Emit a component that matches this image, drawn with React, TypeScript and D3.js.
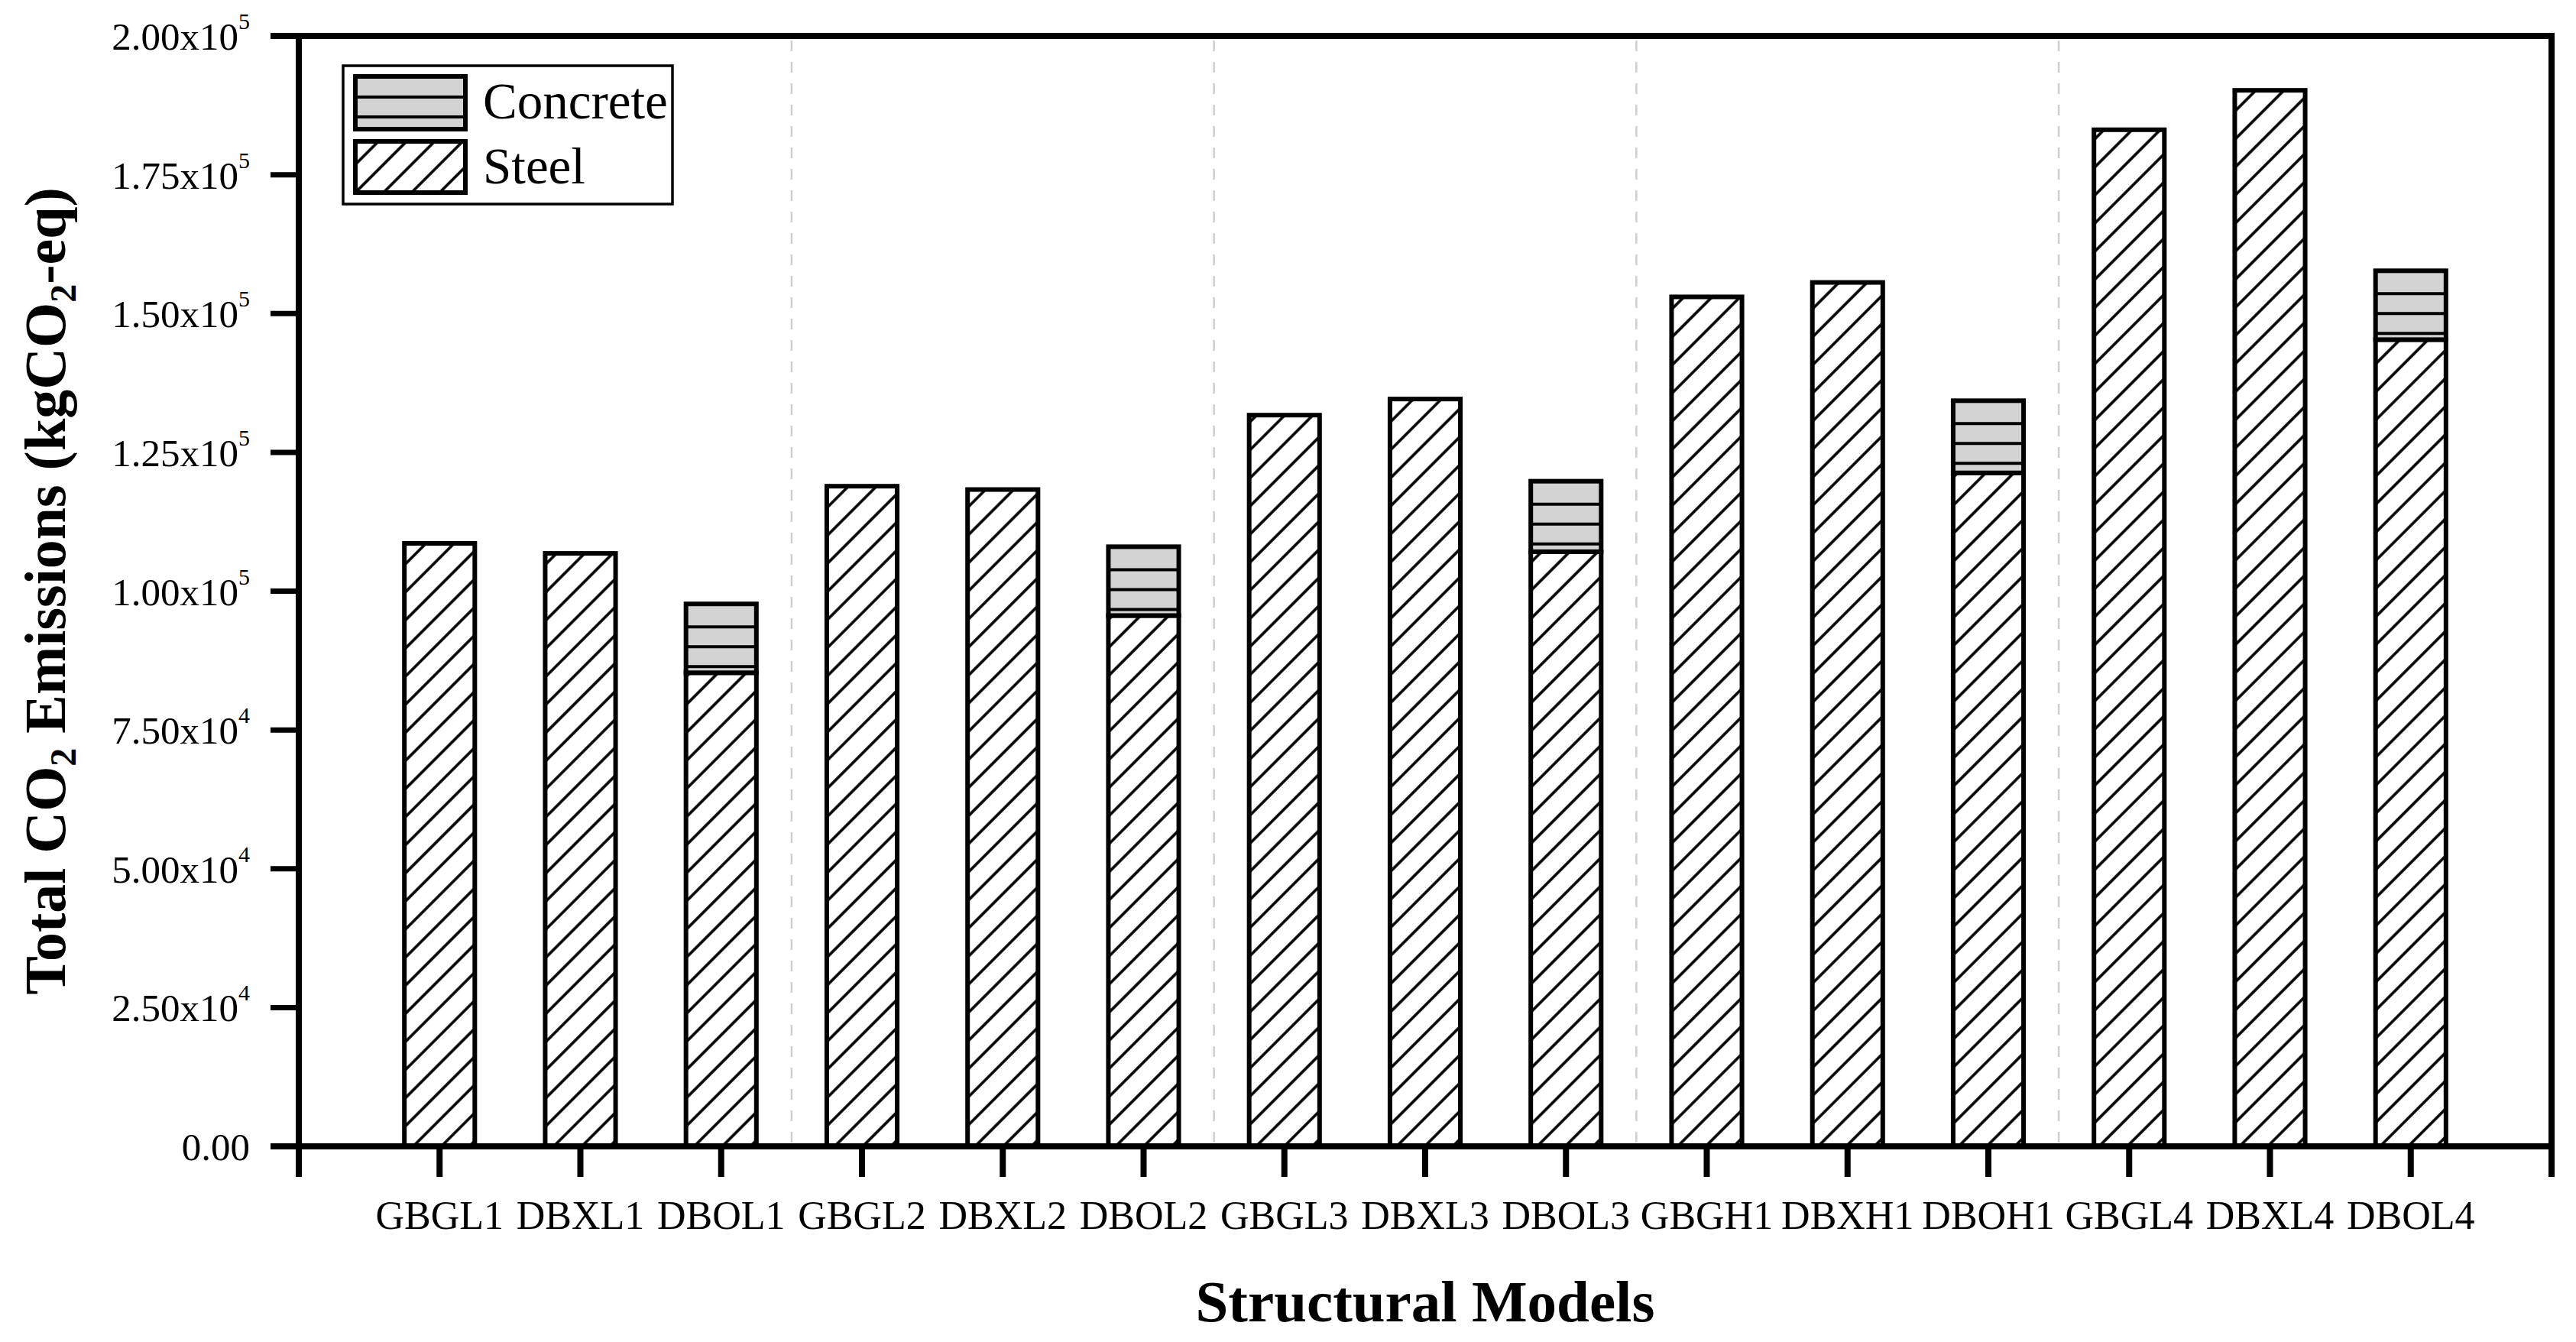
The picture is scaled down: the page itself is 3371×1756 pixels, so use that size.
import React from 'react';
import * as d3 from 'd3';

const categories = ['GBGL1', 'DBXL1', 'DBOL1', 'GBGL2', 'DBXL2', 'DBOL2', 'GBGL3', 'DBXL3', 'DBOL3', 'GBGH1', 'DBXH1', 'DBOH1', 'GBGL4', 'DBXL4', 'DBOL4'];
const steelValues = [108600, 106800, 85300, 118900, 118300, 95600, 131700, 134600, 107100, 153000, 155600, 121300, 183100, 190200, 145300];
const concreteValues = [0, 0, 12400, 0, 0, 12400, 0, 0, 12700, 0, 0, 13000, 0, 0, 12400];
const yTickValues = [0, 25000, 50000, 75000, 100000, 125000, 150000, 175000, 200000];
const yTickMantissas = ['0.00', '2.50', '5.00', '7.50', '1.00', '1.25', '1.50', '1.75', '2.00'];
const yTickExponents = ['', '4', '4', '4', '5', '5', '5', '5', '5'];
const separatorAfter = [2, 5, 8, 11];
const seriesNames = ['Concrete', 'Steel'];

const W = 3371;
const H = 1756;
const L = 391;
const R = 3339;
const T = 47;
const B = 1500;
const FONT = '"Liberation Serif", "Times New Roman", Times, serif';

export default function App() {
  const x = d3.scaleBand<string>().domain(categories).range([L, R]).paddingInner(0.5).paddingOuter(0.75);
  const y = d3.scaleLinear().domain([0, 200000]).range([B, T]);
  const bw = x.bandwidth();

  const concreteLines = (top: number, bottom: number, x0: number, x1: number, key: string) => {
    const out: React.ReactElement[] = [];
    for (let yy = top + 30, k = 0; yy <= bottom - 8; yy += 26, k++) {
      out.push(<line key={key + k} x1={x0} x2={x1} y1={yy} y2={yy} stroke="#000" strokeWidth={4} />);
    }
    return out;
  };

  return (
    <svg width={W} height={H} style={{ position: 'absolute', left: 0, top: 0, background: '#fff' }} fontFamily={FONT}>
      <defs>
        <pattern id="steelHatch" patternUnits="userSpaceOnUse" width={26} height={26} patternTransform="rotate(45)">
          <rect width={26} height={26} fill="#fff" />
          <line x1={13} y1={-2} x2={13} y2={28} stroke="#000" strokeWidth={3.6} />
        </pattern>
      </defs>
      <rect x={0} y={0} width={W} height={H} fill="#fff" />

      {separatorAfter.map((i) => {
        const sx = (x(categories[i])! + x(categories[i + 1])!) / 2 + bw / 2;
        return (
          <line key={'sep' + i} x1={sx} x2={sx} y1={T + 6} y2={B - 5} stroke="#cfcfcf" strokeWidth={2.5} strokeDasharray="14 14" />
        );
      })}

      {categories.map((c, i) => {
        const x0 = x(c)!;
        const sTop = y(steelValues[i]);
        const cTop = y(steelValues[i] + concreteValues[i]);
        return (
          <g key={c}>
            <rect x={x0} y={sTop} width={bw} height={B - sTop} fill="url(#steelHatch)" stroke="#000" strokeWidth={6} />
            {concreteValues[i] > 0 && (
              <g>
                <rect x={x0} y={cTop} width={bw} height={sTop - cTop} fill="#d3d3d3" stroke="none" />
                {concreteLines(cTop, sTop, x0, x0 + bw, c)}
                <rect x={x0} y={cTop} width={bw} height={sTop - cTop} fill="none" stroke="#000" strokeWidth={6} />
              </g>
            )}
          </g>
        );
      })}

      <line x1={L - 37} x2={R + 4} y1={T} y2={T} stroke="#000" strokeWidth={8} />
      <line x1={L - 37} x2={R + 4} y1={B} y2={B} stroke="#000" strokeWidth={8} />
      <line x1={L} x2={L} y1={T - 4} y2={B + 40} stroke="#000" strokeWidth={8} />
      <line x1={R} x2={R} y1={T - 4} y2={B + 40} stroke="#000" strokeWidth={8} />

      {yTickValues.map((v, i) => (
        <g key={'yt' + v}>
          <line x1={L - 37} x2={L} y1={y(v)} y2={y(v)} stroke="#000" strokeWidth={7} />
          <text x={327} y={y(v) + 18} fontSize={51} textAnchor="end" fill="#000">
            {yTickMantissas[i] + (yTickExponents[i] ? 'x10' : '')}
            {yTickExponents[i] && (
              <tspan fontSize={30} dy={-27}>{yTickExponents[i]}</tspan>
            )}
          </text>
        </g>
      ))}

      {categories.map((c) => {
        const cx = x(c)! + bw / 2;
        return (
          <g key={'xt' + c}>
            <line x1={cx} x2={cx} y1={B} y2={B + 40} stroke="#000" strokeWidth={8} />
            <text x={cx} y={1608} fontSize={52} textAnchor="middle" fill="#000">{c}</text>
          </g>
        );
      })}

      <text x={(L + R) / 2} y={1729} fontSize={77} fontWeight="bold" textAnchor="middle" fill="#000">Structural Models</text>
      <text transform={`translate(85, ${(T + B) / 2}) rotate(-90)`} fontSize={76} fontWeight="bold" textAnchor="middle" fill="#000">
        Total CO<tspan fontSize={48} dy={14}>2</tspan><tspan dy={-14}> Emissions (kgCO</tspan><tspan fontSize={48} dy={14}>2</tspan><tspan dy={-14}>-eq)</tspan>
      </text>

      <g>
        <rect x={449} y={86} width={431} height={181} fill="#fff" stroke="#000" strokeWidth={3.5} />
        <rect x={465} y={100} width={144} height={69} fill="#d3d3d3" />
        {concreteLines(97, 172, 465, 609, 'lg')}
        <rect x={465} y={100} width={144} height={69} fill="none" stroke="#000" strokeWidth={6} />
        <rect x={465} y={185} width={144} height={67} fill="url(#steelHatch)" stroke="#000" strokeWidth={6} />
        <text x={632} y={155} fontSize={67} fill="#000">{seriesNames[0]}</text>
        <text x={632} y={240} fontSize={67} fill="#000">{seriesNames[1]}</text>
      </g>
    </svg>
  );
}
